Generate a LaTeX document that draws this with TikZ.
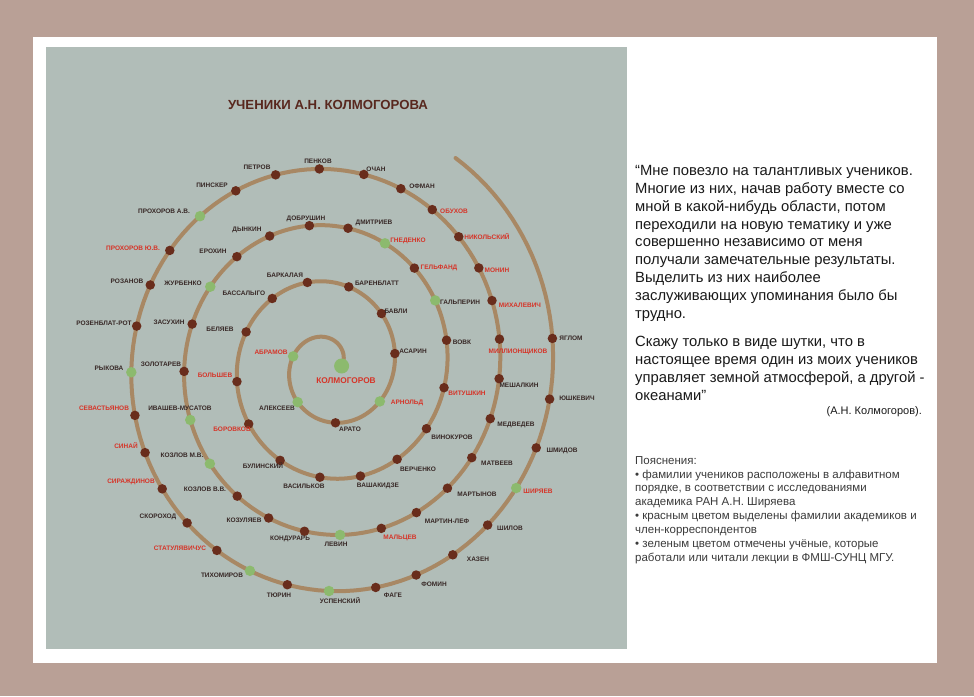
\documentclass[tikz,border=0pt]{standalone}
\usepackage{fontspec}
\setmainfont{Liberation Sans}
\definecolor{outerbg}{RGB}{185,160,150}
\definecolor{panelc}{RGB}{177,189,184}
\definecolor{spiralc}{RGB}{168,136,100}
\definecolor{dotbrown}{RGB}{105,45,28}
\definecolor{dotgreen}{RGB}{140,186,110}
\definecolor{labred}{RGB}{214,52,40}
\definecolor{labdark}{RGB}{55,40,38}
\definecolor{titlec}{RGB}{88,40,30}
\definecolor{textc}{RGB}{25,25,25}
\tikzset{
  bdot/.style={circle,fill=dotbrown,inner sep=0pt,minimum size=9.5pt},
  gdot/.style={circle,fill=dotgreen,inner sep=0pt,minimum size=10.5pt},
  dlab/.style={inner sep=0pt,text=labdark,font=\bfseries\fontsize{6.5}{7}\selectfont},
  rlab/.style={dlab,text=labred},
  quote/.style={inner sep=0pt,anchor=north west,align=left,text=textc,font=\fontsize{14.8}{17.9}\selectfont},
  legend/.style={inner sep=0pt,anchor=north west,align=left,text=textc!85,font=\fontsize{11.5}{13.9}\selectfont}
}
\newcommand\stud[7]{%
  \path ({329+(12.6+0.14678*#1)*cos(#1)},{366-(13.9+0.15638*#1)*sin(#1)}) node[#3] (#2) {};
  \node[#6] (#2-l) at (#4,#5) {#7};
}
\begin{document}
\begin{tikzpicture}[x=1pt,y=-1pt]
\useasboundingbox (0,0) rectangle (974,696);
\fill[outerbg] (0,0) rectangle (974,696);
\fill[white] (33,37) rectangle (937,663);
\fill[panelc] (45.5,47) rectangle (627,649);
\node[inner sep=0pt,text=titlec,font=\bfseries\fontsize{13.2}{15}\selectfont] (title) at (328,105) {УЧЕНИКИ А.Н. КОЛМОГОРОВА};
\draw[spiralc,line width=4pt,line cap=round] plot[domain=0:1497,samples=600,variable=\t]
  ({329+(12.6+0.14678*\t)*cos(\t)},{366-(13.9+0.15638*\t)*sin(\t)});
\node[circle,fill=dotgreen,inner sep=0pt,minimum size=15pt] (kolm) at (341.6,366) {};
\node[rlab,font=\bfseries\fontsize{8.3}{9}\selectfont] (kolm-l) at (346,381) {КОЛМОГОРОВ};
\stud{166}{abramov}{gdot}{271}{352}{rlab}{АБРАМОВ}
\stud{227}{alekseev}{gdot}{277}{408}{dlab}{АЛЕКСЕЕВ}
\stud{277}{arato}{bdot}{350}{429}{dlab}{АРАТО}
\stud{327}{arnold}{gdot}{407}{403}{rlab}{АРНОЛЬД}
\stud{370}{asarin}{bdot}{413}{351}{dlab}{АСАРИН}
\stud{403}{bavli}{bdot}{396}{311}{dlab}{БАВЛИ}
\stud{435}{barenblatt}{bdot}{377}{283}{dlab}{БАРЕНБЛАТТ}
\stud{465.5}{barkalaya}{bdot}{285}{275}{dlab}{БАРКАЛАЯ}
\stud{492}{bassalygo}{bdot}{244}{293}{dlab}{БАССАЛЫГО}
\stud{519}{belyaev}{bdot}{220}{329}{dlab}{БЕЛЯЕВ}
\stud{549}{bolshev}{bdot}{215}{375}{rlab}{БОЛЬШЕВ}
\stud{574}{borovkov}{bdot}{232}{429}{rlab}{БОРОВКОВ}
\stud{601}{bulinsky}{bdot}{263}{466}{dlab}{БУЛИНСКИЙ}
\stud{625}{vasilkov}{bdot}{304}{486}{dlab}{ВАСИЛЬКОВ}
\stud{647}{vashakidze}{bdot}{378}{486}{dlab}{ВАШАКИДЗЕ}
\stud{668}{verchenko}{bdot}{418}{469}{dlab}{ВЕРЧЕНКО}
\stud{689}{vinokurov}{bdot}{452}{437}{dlab}{ВИНОКУРОВ}
\stud{710}{vitushkin}{bdot}{467}{393}{rlab}{ВИТУШКИН}
\stud{731.6}{vovk}{bdot}{462}{342}{dlab}{ВОВК}
\stud{750}{galperin}{gdot}{460}{302}{dlab}{ГАЛЬПЕРИН}
\stud{767}{gelfand}{bdot}{439}{268}{rlab}{ГЕЛЬФАНД}
\stud{784}{gnedenko}{gdot}{408}{241}{rlab}{ГНЕДЕНКО}
\stud{801.6}{dmitriev}{bdot}{374}{223}{dlab}{ДМИТРИЕВ}
\stud{818.5}{dobrushin}{bdot}{306}{219}{dlab}{ДОБРУШИН}
\stud{836}{dynkin}{bdot}{247}{230}{dlab}{ДЫНКИН}
\stud{852}{erokhin}{bdot}{213}{251}{dlab}{ЕРОХИН}
\stud{868}{zhurbenko}{gdot}{183}{283}{dlab}{ЖУРБЕНКО}
\stud{884}{zasukhin}{bdot}{169}{322}{dlab}{ЗАСУХИН}
\stud{902}{zolotarev}{bdot}{161}{364}{dlab}{ЗОЛОТАРЕВ}
\stud{920}{ivashev}{gdot}{180}{408}{dlab}{ИВАШЕВ-МУСАТОВ}
\stud{937.5}{kozlovmv}{gdot}{182}{455}{dlab}{КОЗЛОВ М.В.}
\stud{953}{kozlovvv}{bdot}{205}{489}{dlab}{КОЗЛОВ В.В.}
\stud{967}{kozulyaev}{bdot}{244}{520}{dlab}{КОЗУЛЯЕВ}
\stud{981}{kondurar}{bdot}{290}{539}{dlab}{КОНДУРАРЬ}
\stud{994}{levin}{gdot}{336}{544}{dlab}{ЛЕВИН}
\stud{1009}{maltsev}{bdot}{400}{538}{rlab}{МАЛЬЦЕВ}
\stud{1022.5}{martinlef}{bdot}{447}{521}{dlab}{МАРТИН-ЛЕФ}
\stud{1036}{martynov}{bdot}{477}{494}{dlab}{МАРТЫНОВ}
\stud{1049}{matveev}{bdot}{497}{463}{dlab}{МАТВЕЕВ}
\stud{1063}{medvedev}{bdot}{516}{425}{dlab}{МЕДВЕДЕВ}
\stud{1076}{meshalkin}{bdot}{519}{385}{dlab}{МЕШАЛКИН}
\stud{1088.4}{million}{bdot}{518}{352}{rlab}{МИЛЛИОНЩИКОВ}
\stud{1100.6}{mikhalevich}{bdot}{520}{305}{rlab}{МИХАЛЕВИЧ}
\stud{1111.5}{monin}{bdot}{497}{270}{rlab}{МОНИН}
\stud{1123}{nikolsky}{bdot}{487}{237}{rlab}{НИКОЛЬСКИЙ}
\stud{1134.8}{obukhov}{bdot}{454}{211}{rlab}{ОБУХОВ}
\stud{1146.6}{ofman}{bdot}{422}{186}{dlab}{ОФМАН}
\stud{1159}{ochan}{bdot}{376}{169}{dlab}{ОЧАН}
\stud{1173}{penkov}{bdot}{318}{161}{dlab}{ПЕНКОВ}
\stud{1186.6}{petrov}{bdot}{257}{167}{dlab}{ПЕТРОВ}
\stud{1199.6}{pinsker}{bdot}{212}{185}{dlab}{ПИНСКЕР}
\stud{1212.6}{prokhorovav}{gdot}{164}{211}{dlab}{ПРОХОРОВ А.В.}
\stud{1225.8}{prokhorovyuv}{bdot}{133}{248}{rlab}{ПРОХОРОВ Ю.В.}
\stud{1237}{rozanov}{bdot}{127}{281}{dlab}{РОЗАНОВ}
\stud{1249}{rozenblat}{bdot}{104}{323}{dlab}{РОЗЕНБЛАТ-РОТ}
\stud{1261.7}{rykova}{gdot}{109}{368}{dlab}{РЫКОВА}
\stud{1273.4}{sevastyanov}{bdot}{104}{408}{rlab}{СЕВАСТЬЯНОВ}
\stud{1283.8}{sinai}{bdot}{126}{446}{rlab}{СИНАЙ}
\stud{1294.6}{sirazhdinov}{bdot}{131}{482}{rlab}{СИРАЖДИНОВ}
\stud{1306}{skorokhod}{bdot}{158}{517}{dlab}{СКОРОХОД}
\stud{1317}{statul}{bdot}{180}{548}{rlab}{СТАТУЛЯВИЧУС}
\stud{1327.6}{tikhomirov}{gdot}{222}{575}{dlab}{ТИХОМИРОВ}
\stud{1338.5}{tyurin}{bdot}{279}{595}{dlab}{ТЮРИН}
\stud{1350}{uspensky}{gdot}{340}{601}{dlab}{УСПЕНСКИЙ}
\stud{1362.7}{fage}{bdot}{393}{595}{dlab}{ФАГЕ}
\stud{1374}{fomin}{bdot}{434}{584}{dlab}{ФОМИН}
\stud{1385}{khazen}{bdot}{478}{559}{dlab}{ХАЗЕН}
\stud{1396.8}{shilov}{bdot}{510}{528}{dlab}{ШИЛОВ}
\stud{1408.6}{shiryaev}{gdot}{538}{491}{rlab}{ШИРЯЕВ}
\stud{1419.7}{shmidov}{bdot}{562}{451}{dlab}{ШМИДОВ}
\stud{1432}{yushkevich}{bdot}{577}{398}{dlab}{ЮШКЕВИЧ}
\stud{1446.6}{yaglom}{bdot}{571}{338}{dlab}{ЯГЛОМ}
\node[quote] (q1) at (635,165) {“Мне повезло на талантливых учеников.\\
Многие из них, начав работу вместе со\\
мной в какой-нибудь области, потом\\
переходили на новую тематику и уже\\
совершенно независимо от меня\\
получали замечательные результаты.\\
Выделить из них наиболее\\
заслуживающих упоминания было бы\\
трудно.};
\node[quote] (q2) at (635,336) {Скажу только в виде шутки, что в\\
настоящее время один из моих учеников\\
управляет земной атмосферой, а другой -\\
океанами”};
\node[inner sep=0pt,anchor=east,text=textc,font=\fontsize{11}{13}\selectfont] (author) at (922,412) {(А.Н. Колмогоров).};
\node[legend] (leg) at (635,456) {Пояснения:\\
• фамилии учеников расположены в алфавитном\\
порядке, в соответствии с исследованиями\\
академика РАН А.Н. Ширяева\\
• красным цветом выделены фамилии академиков и\\
член-корреспондентов\\
• зеленым цветом отмечены учёные, которые\\
работали или читали лекции в ФМШ-СУНЦ МГУ.};
\end{tikzpicture}
\end{document}
